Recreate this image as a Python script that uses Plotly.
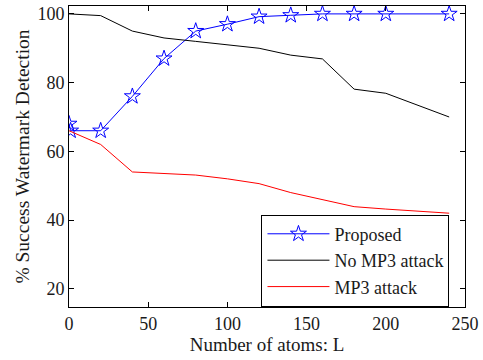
import plotly.graph_objects as go

x_prop = [0, 1, 20, 40, 60, 80, 100, 120, 140, 160, 180, 200, 240]
y_prop = [68, 66, 66, 76, 87, 95, 97, 99.2, 99.6, 100, 100, 100, 100]

x_base = [0, 20, 40, 60, 80, 100, 120, 140, 160, 180, 200, 240]
y_nomp3 = [100, 99.5, 95, 93, 92, 91.1, 90, 88, 86.9, 78.1, 76.9, 70]
y_mp3 = [66, 62, 54, 53.5, 53.1, 52, 50.6, 48, 46, 43.9, 43.2, 42]

font = "Liberation Serif"
txt = "#1a1a1a"

fig = go.Figure()
fig.add_trace(go.Scatter(x=x_prop, y=y_prop, mode="lines+markers", name="Proposed",
                         line=dict(color="#0000ff", width=1),
                         marker=dict(symbol="star-open", size=12, color="#0000ff", line=dict(width=1))))
fig.add_trace(go.Scatter(x=x_base, y=y_nomp3, mode="lines", name="No MP3 attack",
                         line=dict(color="#000000", width=1)))
fig.add_trace(go.Scatter(x=x_base, y=y_mp3, mode="lines", name="MP3 attack",
                         line=dict(color="#ff0000", width=1)))

axis_common = dict(showline=True, linecolor="black", linewidth=1, mirror="ticks",
                   ticks="inside", ticklen=5, tickcolor="black", showgrid=False,
                   zeroline=False, tickfont=dict(family=font, size=18, color=txt))
fig.update_xaxes(range=[0, 250], tickvals=[0, 50, 100, 150, 200, 250],
                 title=dict(text="Number of atoms: L", font=dict(family=font, size=19, color=txt), standoff=4),
                 **axis_common)
fig.update_yaxes(range=[14.7, 102.3], tickvals=[20, 40, 60, 80, 100],
                 title=dict(text="% Success Watermark Detection", font=dict(family=font, size=19.5, color=txt), standoff=2),
                 **axis_common)
fig.update_layout(
    width=483, height=360,
    margin=dict(l=69, r=15, t=4, b=53),
    plot_bgcolor="white", paper_bgcolor="white",
    font=dict(family=font, color=txt),
    legend=dict(x=0.486, y=0.307, xanchor="left", yanchor="top",
                bordercolor="black", borderwidth=1, bgcolor="white",
                font=dict(family=font, size=18, color=txt),
                tracegroupgap=0, itemwidth=62),
    showlegend=True,
)
fig.write_html("out.html")
